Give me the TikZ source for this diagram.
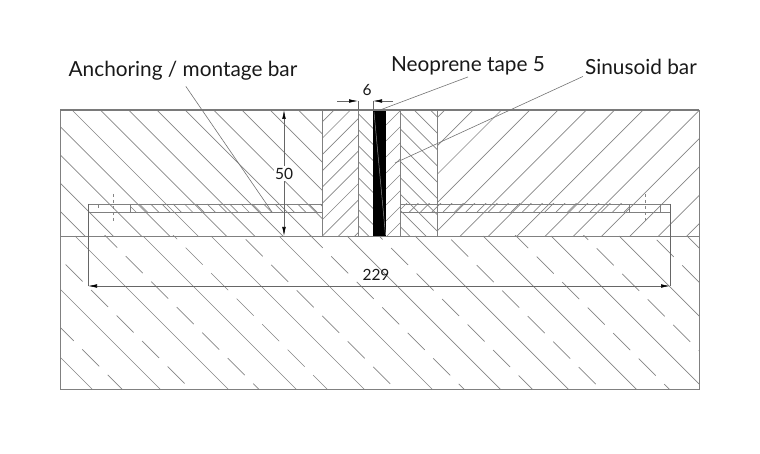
\documentclass[tikz,border=0pt]{standalone}
\usepackage{fontspec}
\setmainfont{Lato}
\usepackage{tikz}
\usetikzlibrary{arrows.meta}

\begin{document}
\begin{tikzpicture}[x=1pt, y=-1pt]
\tikzstyle{hatchline} = [draw=black!48, line width=0.7pt]
\tikzstyle{outline} = [draw=black!50, line width=0.9pt]
\tikzstyle{dimline} = [draw=black!60, line width=0.6pt]
\tikzstyle{dimtip} = [dimline, {Latex[length=9pt,width=3.6pt,black]}-{Latex[length=9pt,width=3.6pt,black]}]
\tikzstyle{leader} = [draw=black!55, line width=0.6pt]
\tikzstyle{callout} = [font=\fontsize{20.8}{24}\selectfont, text=black!90, inner sep=2pt]
\tikzstyle{dimtext} = [font=\fontsize{15.5}{18}\selectfont, text=black!90, inner sep=1.5pt]

\useasboundingbox (0,0) rectangle (760,454);

% corners of the section
\coordinate (topL) at (60,110);
\coordinate (topR) at (699,110);
\coordinate (midL) at (60,236);
\coordinate (midR) at (699,236);
\coordinate (botL) at (60,389);
\coordinate (botR) at (699,389);

% wall left
\begin{scope}
\clip (60,110) rectangle (322,236);
\foreach \c in {-6,...,10}
  \draw [hatchline] ({-38+28.3*\c+110-170},{110-170}) -- ++(400,400);
\end{scope}
% wall right
\begin{scope}
\clip (437,110) rectangle (699,236);
\foreach \c in {-9,...,8}
  \draw [hatchline] ({517+28.3*\c+130},{236-130}) -- ++(-300,300);
\end{scope}

% concrete below, long lines
\begin{scope}
\clip (60,236) rectangle (699,389);
\foreach \c in {-11,...,3}
  \draw [hatchline] ({315+68*\c+236},236) -- ++(200,200);
% short dashes
\foreach \k in {-4,...,16}
  \foreach \j in {-12,...,12}
    \draw [hatchline] ({596.7-60*\k+25.5*\j},{248.3+8.4*\k+25.5*\j}) -- ++(17,17);
\end{scope}

% joint boards
\begin{scope}
\clip (322,110) rectangle (358,236);
\foreach \c in {-8,...,4}
  \draw [hatchline] (322,{220+16.3*\c}) -- ++(60,-60);
\end{scope}
\begin{scope}
\clip (358,110) rectangle (373,236);
\foreach \c in {0,...,8}
  \draw [hatchline] (358,{113.3+16*\c}) -- ++(30,30);
\end{scope}
\begin{scope}
\clip (386,110) rectangle (400.5,236);
\foreach \c in {0,...,8}
  \draw [hatchline] (386,{125+16*\c}) -- ++(30,-30);
\end{scope}
\begin{scope}
\clip (400.5,110) rectangle (437,236);
\foreach \c in {-1,...,8}
  \draw [hatchline] (400.5,{96.5+16.3*\c}) -- ++(60,60);
\end{scope}

% bars
\begin{scope}
\clip (130,204) rectangle (322,212);
\foreach \c in {0,...,18}
  \draw [hatchline] ({128+11.3*\c},204) -- ++(12,12);
\end{scope}
\begin{scope}
\clip (400.5,204) rectangle (629,212);
\foreach \c in {0,...,21}
  \draw [hatchline] ({398+11.3*\c},212) -- ++(12,-12);
\end{scope}
\draw [outline] (322,204) -- (88,204) -- (88,212) -- (322,212);
\draw [outline] (400.5,204) -- (670,204) -- (670,212) -- (400.5,212);
\draw [outline] (130,204) -- (130,212);
\draw [outline] (98,204) -- (98,208);
\draw [outline] (629,204) -- (629,212);
\draw [outline] (660,204) -- (660,212);
\draw [hatchline, dashed] (113.5,194) -- (113.5,221);
\draw [hatchline, dashed] (645.5,194) -- (645.5,221);

% neoprene
\fill [black] (373,110) rectangle (386,236);
\draw [black!45, line width=0.5pt] (374,112) -- (385.5,235);

% outlines
\draw [outline] (midL) -- (botL) -- (botR) -- (midR);
\draw [outline] (midL) -- (midR);
\draw [outline] (topL) -- (midL);
\draw [outline] (topR) -- (midR);
\draw [outline] (322,110) -- (322,236);
\draw [outline] (358,110) -- (358,236);
\draw [outline] (400.5,110) -- (400.5,236);
\draw [outline] (437,110) -- (437,236);
\draw [draw=black!52, line width=1.3pt] (topL) -- (topR);

% labels
\node [callout] (lblAnchor) at (183,70.5) {Anchoring / montage bar};
\node [callout] (lblNeo) at (468,65.5) {Neoprene tape 5};
\node [callout] (lblSin) at (641,66.5) {Sinusoid bar};
\coordinate (anchorTip) at (272,212);
\coordinate (neoTip) at (380,110);
\coordinate (sinTip) at (395,163);
\draw [leader, shorten <=5pt] (lblAnchor.south) -- (anchorTip);
\draw [leader] (lblNeo.south) -- (neoTip);
\draw [leader] (lblSin.south west) -- (sinTip);

% dimensions
\coordinate (h50a) at (284,110);
\coordinate (h50b) at (284,236);
\draw [dimtip] (h50a) -- (h50b) node [dimtext, fill=white, midway, yshift=-0.5pt] (dim50) {50};

\coordinate (w229a) at (88,286);
\coordinate (w229b) at (670,286);
\draw [dimline] (88,204) -- (w229a);
\draw [dimline] (670,204) -- (w229b);
\draw [dimtip] (w229a) -- (w229b);
\node [dimtext] (dim229) at (376,275) {229};

\coordinate (w6a) at (358,101);
\coordinate (w6b) at (373,101);
\draw [dimline, -{Latex[length=9pt,width=3.6pt,black]}] (337,101) -- (w6a);
\draw [dimline, -{Latex[length=9pt,width=3.6pt,black]}] (393,101) -- (w6b);
\draw [dimline] (358,101) -- (358,110);
\draw [dimline] (373,101) -- (373,110);
\node [dimtext] (dim6) at (367,90) {6};
\end{tikzpicture}
\end{document}
